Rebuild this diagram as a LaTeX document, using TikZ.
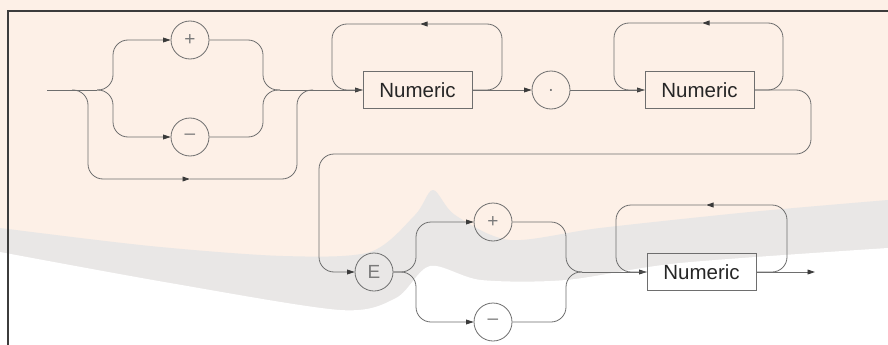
\documentclass[tikz,border=0pt]{standalone}
\usepackage{fontspec}
\setmainfont{Liberation Sans}
\usetikzlibrary{arrows.meta}
\definecolor{railc}{HTML}{6E6E6E}
\definecolor{tipc}{HTML}{3A3A3A}
\definecolor{framec}{HTML}{3C3C3C}
\definecolor{paper}{HTML}{FDF0E7}
\definecolor{band}{HTML}{E9E7E6}
\definecolor{symb}{HTML}{7A7A7A}
\tikzset{
  rail/.style={draw=railc, line width=0.8pt, rounded corners=15pt},
  into/.style={-{Triangle[length=7.5pt,width=4.8pt,color=tipc]}},
  term/.style={circle, draw=railc, line width=0.8pt, minimum size=38pt,
    inner sep=0pt, text=symb, font=\fontsize{19}{19}\selectfont},
  nonterm/.style={rectangle, draw=railc, line width=0.9pt, minimum width=109pt,
    minimum height=37pt, inner sep=0pt, text=black!85,
    font=\fontsize{20.5}{20.5}\selectfont},
}
\begin{document}
\begin{tikzpicture}[x=1pt,y=-1pt]
\useasboundingbox (0,0) rectangle (888,345);
% paper tones
\fill[paper] (0,0) rectangle (888,345);
\fill[band] plot[smooth] coordinates {(0,228) (150,246) (283,256) (370,252)
  (415,215) (433,190) (455,215) (510,240) (600,228) (750,212) (888,200)}
  -- (888,345) -- (0,345) -- cycle;
\fill[white] plot[smooth] coordinates {(0,252) (170,283) (340,310) (396,298)
  (430,266) (481,280) (566,280) (680,263) (888,248)}
  -- (888,345) -- (0,345) -- cycle;
% frame
\draw[framec, line width=1.4pt] (8,345) -- (8,11) -- (888,11);

% terminals and non-terminals
\node[term] (p1) at (190,40) {+};
\node[term] (m1) at (190,137) {–};
\node[nonterm] (n1) at (417.5,90) {Numeric};
\node[term] (dot) at (551,90) {.};
\node[nonterm] (n2) at (699.5,90) {Numeric};
\node[term] (e) at (374,272) {E};
\node[term] (p2) at (493,222) {+};
\node[term] (m2) at (493,322) {–};
\node[nonterm] (n3) at (701.5,272) {Numeric};

% junction points
\coordinate (in) at (47,90);
\coordinate (b0) at (72,90);
\coordinate (s1) at (97,90);
\coordinate (j1) at (280,90);
\coordinate (b1) at (313,90);
\coordinate (bmid) at (190,179);
\coordinate (l1) at (420,24);
\coordinate (l2) at (702,23);
\coordinate (j2) at (582,272);
\coordinate (l3) at (706,205);
\coordinate (out) at (815,272);

% optional sign
\draw[rail] (in) -- (s1);
\draw[rail,into] (s1) -- (113,90) -- (113,40) -- (p1);
\draw[rail,into] (s1) -- (113,90) -- (113,137) -- (m1);
\draw[rail] (p1) -- (263,40) -- (263,90) -- (j1);
\draw[rail] (m1) -- (263,137) -- (263,90) -- (j1);
\draw[rail,into] (b0) -- (88,90) -- (88,179) -- (bmid);
\draw[rail] (bmid) -- (297,179) -- (297,90) -- (b1);
\draw[rail,into] (j1) -- (n1);

% integer digits
\draw[rail,into] (n1.east) -- (502,90) -- (502,24) -- (l1);
\draw[rail] (l1) -- (332,24) -- (332,90) -- (n1.west);
\draw[rail,into] (n1) -- (dot);

% fraction digits
\draw[rail,into] (dot) -- (n2);
\draw[rail,into] (n2.east) -- (783,90) -- (783,23) -- (l2);
\draw[rail] (l2) -- (614,23) -- (614,90) -- (n2.west);
\draw[rail,into] (n2.east) -- (811,90) -- (811,154) -- (319,154) -- (319,272) -- (e);

% exponent
\draw[rail,into] (e) -- (416,272) -- (416,222) -- (p2);
\draw[rail,into] (e) -- (416,272) -- (416,322) -- (m2);
\draw[rail] (p2) -- (566,222) -- (566,272) -- (j2);
\draw[rail] (m2) -- (566,322) -- (566,272) -- (j2);
\draw[rail,into] (j2) -- (n3);
\draw[rail,into] (n3.east) -- (787,272) -- (787,205) -- (l3);
\draw[rail] (l3) -- (616,205) -- (616,272) -- (n3.west);
\draw[rail,into] (n3) -- (out);
\end{tikzpicture}
\end{document}
